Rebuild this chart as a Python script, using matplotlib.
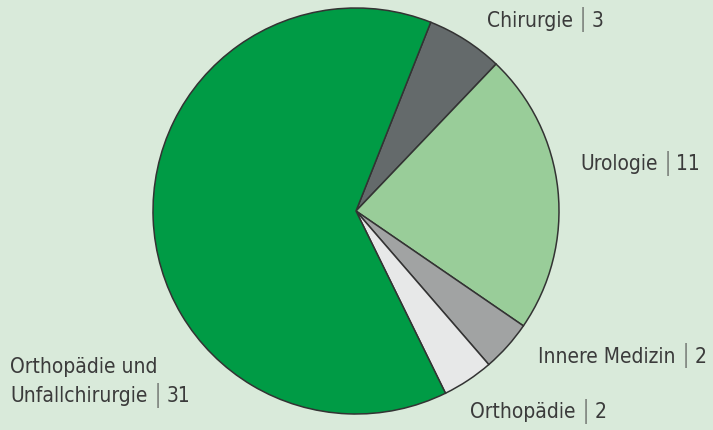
import matplotlib
matplotlib.use("Agg")
import matplotlib.pyplot as plt

categories = ["Chirurgie", "Urologie", "Innere Medizin", "Orthopädie", "Orthopädie und\nUnfallchirurgie"]
values = [3, 11, 2, 2, 31]
colors = ["#646a6b", "#99cd99", "#a1a3a3", "#e7e8e8", "#009b45"]

W, H = 713, 430
bg = "#d9eada"
fig = plt.figure(figsize=(W / 100, H / 100), dpi=100, facecolor=bg)
cx, cy, r = 356, 211, 203
ax = fig.add_axes([(cx - r) / W, (H - cy - r) / H, 2 * r / W, 2 * r / H])
ax.set_facecolor(bg)
wedges, _ = ax.pie(values, colors=colors, startangle=68.4, counterclock=False,
                   wedgeprops=dict(edgecolor="#333333", linewidth=1.1))
for w in wedges:
    w.set_clip_on(False)
ax.set_xlim(-1, 1)
ax.set_ylim(-1, 1)
ax.set_aspect("equal")
ax.axis("off")

font = ["DejaVu Sans"]
tc = "#3b3b3b"
sep_c = "#4a4a4a"
kw = dict(fontsize=15, family=font, stretch="condensed")
renderer = fig.canvas.get_renderer()
# label anchor positions in pixels (left x, center y of last line)
label_pos = [(487, 21), (580, 164), (538, 357), (470, 412), (10, 396)]
for name, val, (px, py) in zip(categories, values, label_pos):
    lines = name.split("\n")
    y = H - py
    for i, ln in enumerate(lines[:-1]):
        fig.text(px / W, (y + 29 * (len(lines) - 1 - i)) / H, ln, ha="left", va="center",
                 color=tc, **kw)
    t = fig.text(px / W, y / H, lines[-1], ha="left", va="center", color=tc, **kw)
    x1 = t.get_window_extent(renderer).x1
    s = fig.text((x1 + 6) / W, (y + 1) / H, "|", ha="left", va="center", color=sep_c,
                 fontsize=17, family=font, fontweight="light")
    x2 = s.get_window_extent(renderer).x1
    fig.text((x2 + 5) / W, y / H, str(val), ha="left", va="center", color=tc, **kw)

fig.savefig("out.png", dpi=100, facecolor=bg)
